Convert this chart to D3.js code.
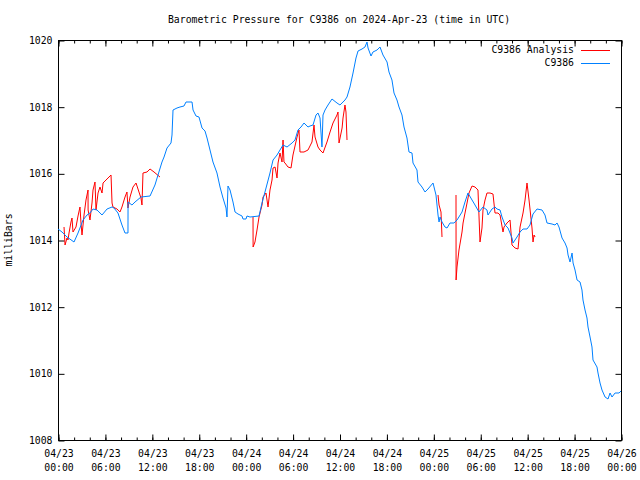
<!DOCTYPE html>
<html>
<head>
<meta charset="utf-8">
<script src="https://cdn.jsdelivr.net/npm/d3@7"></script>
<style>
html,body{margin:0;padding:0;background:#fff;}
svg text{font-family:"DejaVu Sans Mono","Liberation Mono",monospace;font-size:9.8px;fill:#000;}
</style>
</head>
<body>
<svg id="chart" width="640" height="480"></svg>
<script>
// ---- data (hours since 2024-04-23 00:00 UTC, pressure in mbar) ----
const title = "Barometric Pressure for C9386 on 2024-Apr-23 (time in UTC)";
const yLabel = "milliBars";
const seriesNames = ["C9386 Analysis", "C9386"];
const seriesColors = ["#ff0000", "#0080ff"];

const xTickHours = [0,6,12,18,24,30,36,42,48,54,60,66,72];
const xTickDates = ["04/23","04/23","04/23","04/23","04/24","04/24","04/24","04/24","04/25","04/25","04/25","04/25","04/26"];
const xTickTimes = ["00:00","06:00","12:00","18:00","00:00","06:00","12:00","18:00","00:00","06:00","12:00","18:00","00:00"];
const yTicks = [1008,1010,1012,1014,1016,1018,1020];

const stationHours = [0,0.51,1.15,2.05,2.56,3.20,3.71,4.09,4.48,4.99,5.63,6.27,6.91,7.16,7.67,8.18,8.57,8.95,8.96,9.46,9.85,10.61,11.77,12.40,12.79,13.30,13.56,13.94,14.45,14.58,14.71,15.22,15.60,16.11,16.37,17.14,17.27,17.65,18.03,18.42,18.80,19.06,19.44,19.82,20.33,20.72,21.10,21.49,21.61,21.74,22.00,22.38,22.64,23.02,23.53,23.66,24.04,24.17,24.55,25.71,26.09,26.47,27.11,27.50,28.01,28.39,28.78,29.29,29.93,30.31,30.69,31.08,31.46,31.97,32.23,32.61,33.00,33.25,33.51,33.76,33.89,34.15,34.53,35.04,35.68,36.06,36.45,36.70,36.96,37.34,37.73,38.11,38.37,38.88,39.26,39.52,39.65,40.03,40.28,40.80,41.18,41.56,42.08,42.33,42.71,42.97,43.35,43.61,43.99,44.25,44.63,44.89,45.27,45.40,45.91,46.04,46.55,46.94,47.32,47.96,48.34,48.60,48.73,48.86,49.11,49.49,49.75,50.13,50.64,51.03,51.67,52.05,52.43,52.95,53.33,53.84,54.35,54.86,54.99,55.50,55.89,56.14,56.53,56.78,57.17,57.55,58.06,58.19,58.70,59.09,59.47,59.98,60.36,60.75,61.26,61.90,62.28,62.54,63.18,63.56,63.82,64.07,64.46,64.84,65.10,65.23,65.48,65.74,65.87,66.12,66.25,66.38,66.76,67.01,67.14,67.40,67.65,67.78,68.04,68.29,68.42,68.93,69.06,69.32,69.57,69.96,70.34,70.60,70.85,71.24,71.75,72.00];
const stationPressure = [1014.33,1014.24,1014.09,1013.94,1014.21,1014.60,1014.75,1014.81,1014.93,1014.90,1014.75,1014.93,1014.99,1014.96,1014.81,1014.45,1014.21,1014.21,1015.14,1015.05,1015.14,1015.29,1015.32,1015.65,1015.95,1016.34,1016.49,1016.76,1016.91,1017.15,1017.90,1017.96,1017.99,1018.02,1018.14,1018.14,1017.90,1017.72,1017.69,1017.36,1017.27,1017.06,1016.70,1016.34,1016.01,1015.59,1015.26,1014.96,1014.69,1015.62,1015.50,1015.14,1014.84,1014.78,1014.72,1014.63,1014.63,1014.72,1014.69,1014.72,1015.11,1015.44,1016.01,1016.40,1016.55,1016.70,1016.85,1016.79,1016.91,1017.00,1017.30,1017.39,1017.51,1017.39,1017.42,1017.45,1017.75,1017.81,1017.66,1016.79,1017.75,1017.90,1018.05,1018.23,1018.11,1018.05,1018.14,1018.20,1018.29,1018.59,1019.01,1019.46,1019.67,1019.73,1019.79,1019.94,1019.76,1019.52,1019.64,1019.70,1019.79,1019.55,1019.34,1019.04,1018.80,1018.41,1018.20,1017.99,1017.75,1017.39,1017.06,1016.64,1016.61,1016.31,1016.10,1015.74,1015.59,1015.44,1015.53,1015.71,1015.35,1014.75,1014.54,1014.69,1014.54,1014.39,1014.36,1014.51,1014.51,1014.60,1014.84,1015.14,1015.41,1015.20,1015.05,1014.84,1014.99,1014.90,1014.75,1014.93,1014.99,1014.93,1014.90,1014.69,1014.45,1014.36,1014.06,1013.91,1014.09,1014.24,1014.33,1014.33,1014.45,1014.78,1014.93,1014.90,1014.75,1014.51,1014.48,1014.45,1014.51,1014.39,1014.06,1013.91,1013.76,1013.55,1013.34,1013.61,1013.31,1013.10,1012.95,1012.80,1012.74,1012.50,1012.20,1011.90,1011.66,1011.39,1011.09,1010.79,1010.40,1010.19,1010.01,1009.71,1009.50,1009.29,1009.23,1009.41,1009.29,1009.41,1009.41,1009.47];

// analysis series; null marks a gap
const analysisHours = [0.77,0.90,1.15,1.28,1.41,1.66,1.79,1.92,2.30,2.56,2.81,2.94,3.07,3.33,3.58,3.84,3.85,4.09,4.35,4.48,4.73,4.86,5.12,5.37,5.63,5.76,6.14,6.78,6.91,7.03,7.55,7.93,8.18,8.57,8.82,8.95,9.21,9.59,9.98,10.23,10.61,10.74,10.87,11.38,11.77,12.28,13.04,
  null,
  24.94,24.95,25.19,25.45,25.71,26.09,26.22,26.60,26.86,27.11,27.37,27.50,27.76,28.01,28.14,28.39,28.65,28.78,28.90,29.03,29.41,29.80,30.05,30.57,30.82,30.95,31.46,31.97,32.48,32.74,32.87,33.25,33.51,33.89,34.40,34.79,35.17,35.68,35.81,35.94,36.33,36.45,36.70,36.83,36.96,
  null,
  48.60,48.73,48.98,49.11,
  null,
  50.90,50.91,51.03,51.28,51.67,51.80,52.05,52.31,52.56,52.95,53.33,53.71,53.97,54.22,54.35,54.61,54.86,55.25,55.63,55.89,56.27,56.53,56.91,57.04,57.42,57.81,58.06,58.45,58.83,59.09,59.47,59.73,59.98,60.24,60.62,60.75,60.88,61.01];
const analysisPressure = [1014.39,1013.85,1014.06,1014.00,1014.21,1014.54,1014.66,1014.24,1014.39,1014.72,1014.99,1014.51,1014.15,1014.75,1015.20,1015.50,1014.90,1014.60,1015.11,1015.50,1015.74,1014.90,1015.41,1015.59,1015.41,1015.71,1015.80,1015.95,1015.11,1014.99,1014.93,1014.84,1014.99,1015.29,1015.44,1014.96,1015.29,1015.59,1015.71,1015.53,1015.26,1015.05,1016.01,1016.04,1016.13,1016.04,1015.89,
  null,
  1014.69,1013.79,1013.94,1014.30,1014.69,1015.05,1015.29,1015.41,1014.99,1015.50,1015.80,1016.16,1016.19,1015.86,1016.31,1016.61,1016.34,1017.00,1016.34,1016.31,1016.19,1016.16,1016.55,1017.09,1017.30,1016.64,1016.64,1016.70,1016.94,1017.45,1017.09,1016.79,1016.70,1016.61,1016.94,1017.24,1017.51,1017.75,1017.84,1016.91,1017.36,1017.66,1018.05,1017.84,1017.00,
  null,
  1015.35,1015.05,1014.84,1014.09,
  null,
  1015.35,1012.80,1013.19,1013.70,1014.24,1014.51,1014.81,1015.11,1015.41,1015.62,1015.59,1015.50,1013.94,1014.36,1014.90,1015.20,1015.41,1015.41,1015.38,1014.81,1014.81,1014.75,1014.24,1014.39,1014.51,1014.60,1013.85,1013.76,1013.73,1014.39,1014.81,1015.20,1015.71,1015.20,1014.36,1013.94,1014.15,1014.09];

// ---- chart ----
const svg = d3.select("#chart");
const m = {left:58, right:621, top:40, bottom:440};
const startMs = Date.UTC(2024,3,23,0,0,0);
const toDate = h => new Date(startMs + h*3600000);

const x = d3.scaleUtc().domain([toDate(0), toDate(72)]).range([m.left, m.right]);
const y = d3.scaleLinear().domain([1008,1020]).range([m.bottom, m.top]);

// frame
svg.append("rect").attr("x", m.left+0.5).attr("y", m.top+0.5)
  .attr("width", m.right-m.left).attr("height", m.bottom-m.top)
  .attr("fill","none").attr("stroke","#000").attr("stroke-width",1);

const minorHours = d3.range(0, 73, 2);

// bottom axis: major ticks + labels
const xAxisB = d3.axisBottom(x)
  .tickValues(xTickHours.map(toDate))
  .tickSizeInner(-6).tickSizeOuter(0).tickPadding(9)
  .tickFormat((d,i) => xTickDates[i]);
const gxb = svg.append("g").attr("transform",`translate(0.5,${m.bottom+0.5})`).call(xAxisB);
gxb.select(".domain").remove();
gxb.selectAll(".tick text").each(function(d,i){
  const t = d3.select(this);
  t.text(null).attr("y", 9).attr("dy", null);
  t.append("tspan").attr("x",0).attr("dy","0.8em").text(xTickDates[i]);
  t.append("tspan").attr("x",0).attr("dy","1.4em").text(xTickTimes[i]);
});
// minor ticks bottom/top
svg.append("g").attr("transform",`translate(0.5,${m.bottom+0.5})`)
  .call(d3.axisBottom(x).tickValues(minorHours.map(toDate)).tickSizeInner(-3).tickSizeOuter(0).tickFormat(""))
  .select(".domain").remove();
svg.append("g").attr("transform",`translate(0.5,${m.top+0.5})`)
  .call(d3.axisTop(x).tickValues(minorHours.map(toDate)).tickSizeInner(-3).tickSizeOuter(0).tickFormat(""))
  .select(".domain").remove();
svg.append("g").attr("transform",`translate(0.5,${m.top+0.5})`)
  .call(d3.axisTop(x).tickValues(xTickHours.map(toDate)).tickSizeInner(-6).tickSizeOuter(0).tickFormat(""))
  .select(".domain").remove();

// left / right axes
const gyl = svg.append("g").attr("transform",`translate(${m.left+0.5},0.5)`)
  .call(d3.axisLeft(y).tickValues(yTicks).tickSizeInner(-6).tickSizeOuter(0).tickPadding(6).tickFormat(d3.format("d")));
gyl.select(".domain").remove();
svg.append("g").attr("transform",`translate(${m.right+0.5},0.5)`)
  .call(d3.axisRight(y).tickValues(yTicks).tickSizeInner(-6).tickSizeOuter(0).tickFormat(""))
  .select(".domain").remove();

svg.selectAll(".tick line").attr("stroke","#000");
svg.selectAll(".tick text").style("font-family",'"DejaVu Sans Mono","Liberation Mono",monospace').style("font-size","9.8px").attr("fill","#000");

// title and y label
svg.append("text").attr("x", 339).attr("y", 23).attr("text-anchor","middle").text(title);
svg.append("text").attr("transform","translate(12,240) rotate(-90)").attr("text-anchor","middle").text(yLabel);

// lines
const line = d3.line()
  .defined(d => d[0] !== null && d[1] !== null)
  .x(d => x(toDate(d[0])))
  .y(d => y(d[1]));

const analysisData = analysisHours.map((h,i) => [h, analysisPressure[i]]);
const stationData = stationHours.map((h,i) => [h, stationPressure[i]]);

const plot = svg.append("g");
plot.append("path").datum(analysisData).attr("d", line)
  .attr("fill","none").attr("stroke", seriesColors[0]).attr("stroke-width",1);
plot.append("path").datum(stationData).attr("d", line)
  .attr("fill","none").attr("stroke", seriesColors[1]).attr("stroke-width",1);

// legend
const legend = svg.append("g");
seriesNames.forEach((name,i) => {
  const ly = 50 + i*13;
  legend.append("text").attr("x", 574).attr("y", ly).attr("dy","0.35em")
    .attr("text-anchor","end").text(name);
  legend.append("line").attr("x1", 581).attr("x2", 610)
    .attr("y1", ly+0.5).attr("y2", ly+0.5)
    .attr("stroke", seriesColors[i]).attr("stroke-width",1);
});
</script>
</body>
</html>
